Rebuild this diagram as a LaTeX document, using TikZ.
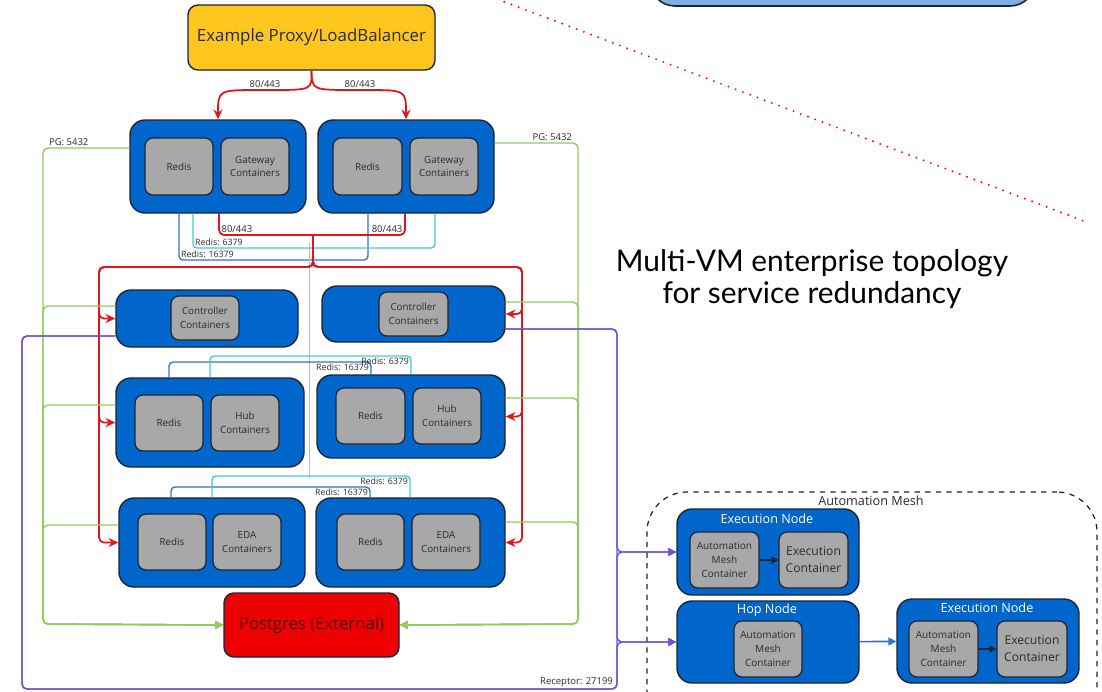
\documentclass[tikz,border=0pt]{standalone}
\usepackage{fontspec}
\setmainfont{Open Sans}
\newfontfamily\titlefont{Lato}
\usetikzlibrary{arrows.meta}

\definecolor{vmblue}{HTML}{0066CC}
\definecolor{boxline}{HTML}{1B2433}
\definecolor{ctgray}{HTML}{A8A8A8}
\definecolor{ctext}{HTML}{2B2B2B}
\definecolor{lbyellow}{HTML}{FFC61E}
\definecolor{pgred}{HTML}{EE0000}
\definecolor{pgtext}{HTML}{5A0000}
\definecolor{netred}{HTML}{E0161B}
\definecolor{netpink}{HTML}{F4A3A3}
\definecolor{pggreen}{HTML}{8DCF5A}
\definecolor{rdcyan}{HTML}{46C8D8}
\definecolor{rdblue}{HTML}{3176C5}
\definecolor{rcpurple}{HTML}{7350CC}
\definecolor{hopblue}{HTML}{2A77D4}
\definecolor{topblue}{HTML}{7DAFE1}

\tikzset{
	sz/.style 2 args={minimum width=#1*0.02cm, minimum height=#2*0.02cm},
	vmbox/.style={draw=boxline, fill=vmblue, line width=0.8pt, rounded corners=0.3cm, inner sep=0pt},
	ctbox/.style={draw=boxline, fill=ctgray, line width=0.7pt, rounded corners=0.16cm, inner sep=0pt, align=center, text=ctext, font=\fontsize{5.6}{7.8}\selectfont},
	meshtxt/.style={font=\fontsize{5.7}{8}\selectfont},
	exectxt/.style={font=\fontsize{6.9}{9.6}\selectfont},
	lbbox/.style={draw=boxline, fill=lbyellow, line width=0.8pt, rounded corners=0.2cm, inner sep=0pt, text=ctext, font=\fontsize{9.6}{11}\selectfont},
	pgbox/.style={draw=boxline, fill=pgred, line width=0.8pt, rounded corners=0.2cm, inner sep=0pt, text=pgtext, font=\fontsize{9.5}{11}\selectfont},
	nodettl/.style={text=white, font=\fontsize{7.2}{8}\selectfont, inner sep=0pt},
	meshlbl/.style={text=ctext, font=\fontsize{7.2}{8}\selectfont, inner sep=0pt},
	lbl/.style={text=ctext, font=\fontsize{5.4}{6}\selectfont, inner sep=1pt},
	rdlbl/.style={text=ctext, font=\fontsize{5}{6}\selectfont, inner sep=0.8pt},
	redln/.style={draw=netred, line width=1pt, rounded corners=0.1cm},
	redarr/.style={redln, -{Stealth[length=5.5pt,width=5pt]}},
	pinkln/.style={draw=netpink, line width=0.5pt},
	pgln/.style={draw=pggreen, line width=0.8pt, rounded corners=0.1cm, -{Triangle[length=4.5pt,width=4.5pt]}},
	cyanln/.style={draw=rdcyan, line width=0.8pt, rounded corners=0.08cm},
	blueln/.style={draw=rdblue, line width=0.8pt, rounded corners=0.08cm},
	rcpln/.style={draw=rcpurple, line width=0.8pt, rounded corners=0.1cm, -{Triangle[length=4.5pt,width=4.5pt]}},
	hoparr/.style={draw=hopblue, line width=0.9pt, -{Triangle[length=4.5pt,width=4.5pt]}},
	innerarr/.style={draw=boxline, line width=0.9pt, -{Triangle[length=4pt,width=4pt]}},
	meshbox/.style={draw=boxline, dashed, line width=0.7pt, rounded corners=0.8cm, inner sep=0pt},
	dotline/.style={draw=red, line width=1.2pt, line cap=round, dash pattern=on 0pt off 4.4pt},
	ttl/.style={align=center, text=black, font=\titlefont\fontsize{17}{18.2}\selectfont, inner sep=0pt}
}

\begin{document}
\begin{tikzpicture}[x=0.02cm,y=-0.02cm]
	\useasboundingbox (0,0) rectangle (1102,691);
	\fill[white] (0,0) rectangle (1102,691);

	\draw[draw=boxline, fill=topblue, line width=0.9pt, rounded corners=0.5cm] (650,-40) rectangle (1035,6);
	\draw[dotline] (497,-1) -- (1084,221);
	\node[ttl] (title) at (812,279) {Multi-VM enterprise topology\\for service redundancy};

	\node[lbbox, sz={247}{65}] (lb) at (311.5,37.5) {Example Proxy/LoadBalancer};

	\node[vmbox, sz={176}{93}] (gw1) at (218,166.5) {};
	\node[ctbox, sz={68}{57}] (gwr1) at (179,166.5) {Redis};
	\node[ctbox, sz={68}{57}] (gwc1) at (255,166.5) {Gateway\\Containers};
	\node[vmbox, sz={176}{93}] (gw2) at (406,166.5) {};
	\node[ctbox, sz={69}{57}] (gwr2) at (367.5,166.5) {Redis};
	\node[ctbox, sz={68}{57}] (gwc2) at (444,166.5) {Gateway\\Containers};

	\node[vmbox, sz={182}{57}] (ct1) at (207,318.5) {};
	\node[ctbox, sz={68}{44}] (ctc1) at (205,318) {Controller\\Containers};
	\node[vmbox, sz={183}{56}] (ct2) at (413.5,314) {};
	\node[ctbox, sz={69}{44}] (ctc2) at (413.5,314) {Controller\\Containers};

	\node[vmbox, sz={188}{89}] (hub1) at (210,422.5) {};
	\node[ctbox, sz={68}{56}] (hbr1) at (169,423) {Redis};
	\node[ctbox, sz={68}{56}] (hbc1) at (245,423) {Hub\\Containers};
	\node[vmbox, sz={188}{83}] (hub2) at (411,416.5) {};
	\node[ctbox, sz={69}{56}] (hbr2) at (370.5,416) {Redis};
	\node[ctbox, sz={68}{56}] (hbc2) at (447,416) {Hub\\Containers};

	\node[vmbox, sz={186}{89}] (ed1) at (212,542.5) {};
	\node[ctbox, sz={68}{56}] (edr1) at (172,542) {Redis};
	\node[ctbox, sz={68}{56}] (edc1) at (247,542) {EDA\\Containers};
	\node[vmbox, sz={189}{89}] (ed2) at (410.5,542.5) {};
	\node[ctbox, sz={67}{56}] (edr2) at (370.5,542) {Redis};
	\node[ctbox, sz={68}{56}] (edc2) at (446,542) {EDA\\Containers};

	\node[pgbox, sz={175}{64}] (pg) at (311.5,625) {Postgres (External)};

	\node[meshbox, sz={450}{268}] (mesh) at (872,626) {};
	\node[meshlbl] (meshl) at (871,501) {Automation Mesh};
	\node[vmbox, sz={182}{86}] (ex1) at (768,552) {};
	\node[nodettl] (ex1t) at (767,519) {Execution Node};
	\node[ctbox, meshtxt, sz={69}{56}] (amc1) at (724.5,560) {Automation\\Mesh\\Container};
	\node[ctbox, exectxt, sz={69}{56}] (ec1) at (813.5,560) {Execution\\Container};
	\node[vmbox, sz={182}{82}] (hop) at (768,642) {};
	\node[nodettl] (hopt) at (767,610) {Hop Node};
	\node[ctbox, meshtxt, sz={68}{56}] (amc2) at (768,649) {Automation\\Mesh\\Container};
	\node[vmbox, sz={182}{84}] (ex2) at (988,641) {};
	\node[nodettl] (ex2t) at (987,608) {Execution Node};
	\node[ctbox, meshtxt, sz={69}{56}] (amc3) at (943.5,649) {Automation\\Mesh\\Container};
	\node[ctbox, exectxt, sz={70}{56}] (ec2) at (1032,649) {Execution\\Container};

	\draw[innerarr] (amc1) -- (ec1);
	\draw[innerarr] (amc3) -- (ec2);
	\draw[hoparr] (hop) -- (ex2);

	\draw[redarr] (lb.south) .. controls (312,90) .. (265,90) node[lbl, anchor=south] {80/443} .. controls (218,90) .. (gw1.north);
	\draw[redarr] (lb.south) .. controls (312,90) .. (360,90) node[lbl, anchor=south] {80/443} .. controls (406,90) .. (gw2.north);

	\draw[blueln] (179,0 |- gw1.south) -- (179,260) node[rdlbl, anchor=south west] {Redis: 16379} -- (368,260) -- (368,0 |- gw2.south);
	\draw[cyanln] (193,0 |- gw1.south) -- (193,248) node[rdlbl, anchor=south west] {Redis: 6379} -- (435,248) -- (435,0 |- gw2.south);
	\draw[redln] (219,0 |- gw1.south) -- (219,235) node[lbl, anchor=south west] {80/443} -- (405,235) node[lbl, anchor=south east] {80/443} -- (405,0 |- gw2.south);

	\draw[pinkln] (309,243) -- (309,478);
	\draw[redarr] (313,235) -- (313,267) -- (99,267) -- (99,0 |- ct1.west) -- (ct1.west);
	\draw[redarr] (313,235) -- (313,267) -- (99,267) -- (99,0 |- hub1.west) -- (hub1.west);
	\draw[redarr] (313,235) -- (313,267) -- (99,267) -- (99,0 |- ed1.west) -- (ed1.west);
	\draw[redarr] (313,235) -- (313,267) -- (522,267) -- (522,0 |- ct2.east) -- (ct2.east);
	\draw[redarr] (313,235) -- (313,267) -- (522,267) -- (522,0 |- hub2.east) -- (hub2.east);
	\draw[redarr] (313,235) -- (313,267) -- (522,267) -- (522,0 |- ed2.east) -- (ed2.east);

	\draw[blueln] (169,0 |- hub1.north) -- (169,362) -- (371,362) node[rdlbl, anchor=north east] {Redis: 16379} -- (371,0 |- hub2.north);
	\draw[cyanln] (210,0 |- hub1.north) -- (210,356) -- (411,356) node[rdlbl, anchor=north east] {Redis: 6379} -- (411,0 |- hub2.north);
	\draw[blueln] (171,0 |- ed1.north) -- (171,487) -- (370,487) node[rdlbl, anchor=north east] {Redis: 16379} -- (370,0 |- ed2.north);
	\draw[cyanln] (212,0 |- ed1.north) -- (212,476) -- (410,476) node[rdlbl, anchor=north east] {Redis: 6379} -- (410,0 |- ed2.north);

	\draw[pgln] (gw1.west |- 0,148) -- (43,148) -- (43,624) -- (pg.west);
	\draw[pgln] (ct1.west |- 0,306) -- (43,306) -- (43,624) -- (pg.west);
	\draw[pgln] (hub1.west |- 0,405) -- (43,405) -- (43,624) -- (pg.west);
	\draw[pgln] (ed1.west |- 0,525) -- (43,525) -- (43,624) -- (pg.west);
	\draw[pgln] (gw2.east |- 0,143) -- (578,143) -- (578,624) -- (pg.east);
	\draw[pgln] (ct2.east |- 0,302) -- (578,302) -- (578,624) -- (pg.east);
	\draw[pgln] (hub2.east |- 0,398) -- (578,398) -- (578,624) -- (pg.east);
	\draw[pgln] (ed2.east |- 0,522) -- (578,522) -- (578,624) -- (pg.east);
	\node[lbl, anchor=south west] (pgl1) at (47,148) {PG: 5432};
	\node[lbl, anchor=south east] (pgl2) at (574,143) {PG: 5432};

	\draw[rcpln] (ct2.east |- 0,329) -- (617,329) -- (617,552) -- (ex1.west);
	\draw[rcpln] (ct2.east |- 0,329) -- (617,329) -- (617,642) -- (hop.west);
	\draw[rcpln] (ct1.west |- 0,336) -- (22,336) -- (22,689) -- (617,689) -- (617,642) -- (hop.west);
	\draw[rcpln] (ct1.west |- 0,336) -- (22,336) -- (22,689) -- (617,689) -- (617,552) -- (ex1.west);
	\node[lbl, anchor=south east] (rcpl) at (615,689) {Receptor: 27199};
\end{tikzpicture}
\end{document}
